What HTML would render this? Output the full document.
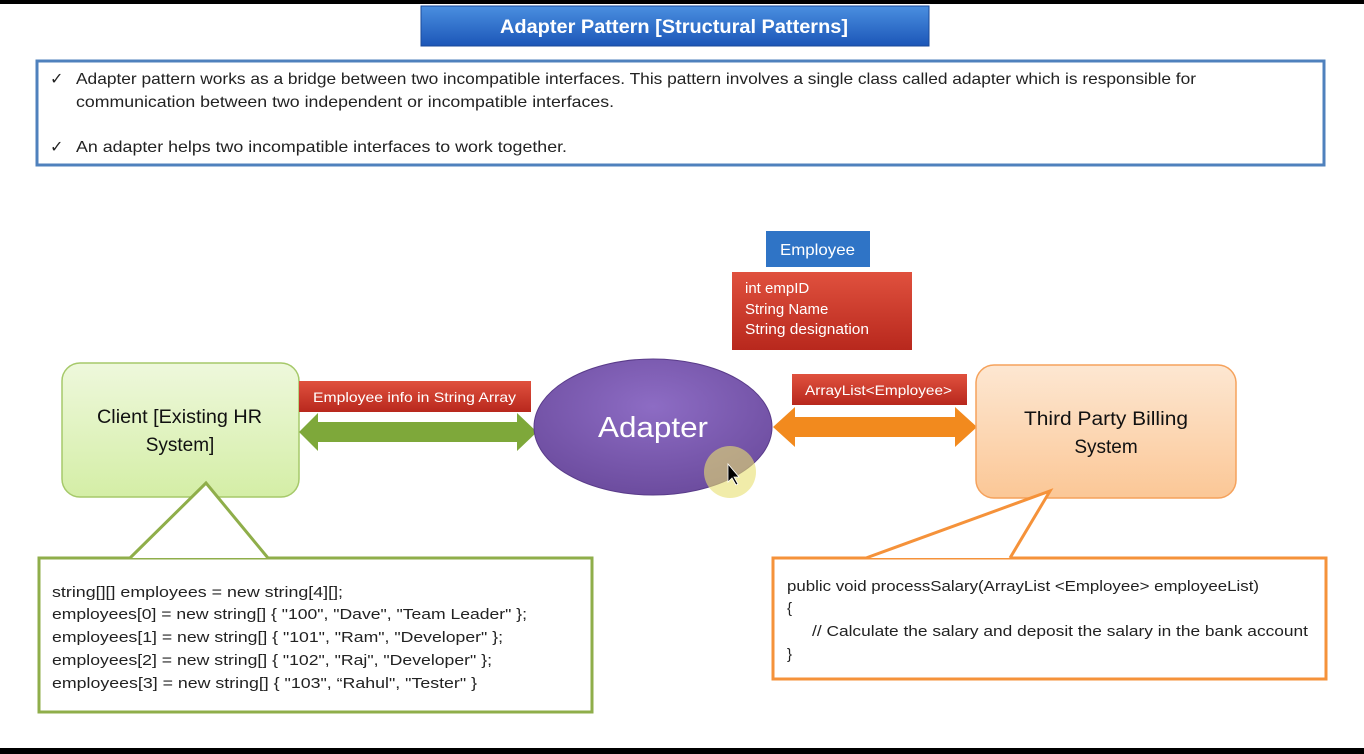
<!DOCTYPE html>
<html><head><meta charset="utf-8"><style>
html,body{margin:0;padding:0;background:#fff;}
svg{display:block;}
text{font-family:"Liberation Sans",sans-serif;}
</style></head><body>
<svg width="1364" height="754" viewBox="0 0 1364 754" xmlns="http://www.w3.org/2000/svg">
<defs>
<linearGradient id="tb" x1="0" y1="0" x2="0" y2="1"><stop offset="0" stop-color="#4a8fe0"/><stop offset="1" stop-color="#1c56b8"/></linearGradient>
<linearGradient id="rd" x1="0" y1="0" x2="0" y2="1"><stop offset="0" stop-color="#e0513e"/><stop offset="1" stop-color="#b8281d"/></linearGradient>
<linearGradient id="gr" x1="0" y1="0" x2="0" y2="1"><stop offset="0" stop-color="#eef8dc"/><stop offset="1" stop-color="#d4eea6"/></linearGradient>
<linearGradient id="or" x1="0" y1="0" x2="0" y2="1"><stop offset="0" stop-color="#fde7d2"/><stop offset="1" stop-color="#fbc796"/></linearGradient>
<radialGradient id="pu" cx="0.5" cy="0.35" r="0.7"><stop offset="0" stop-color="#8d6cc4"/><stop offset="1" stop-color="#6a4a9c"/></radialGradient>
</defs>
<rect x="0" y="0" width="1364" height="4" fill="#000"/>
<rect x="0" y="748" width="1364" height="6" fill="#000"/>
<rect x="421" y="6" width="508" height="40" fill="url(#tb)" stroke="#1a4a9a"/>
<text x="500" y="33" font-size="19" font-weight="bold" fill="#fff" textLength="348" lengthAdjust="spacingAndGlyphs">Adapter Pattern [Structural Patterns]</text>
<rect x="37" y="61" width="1287" height="104" fill="#fff" stroke="#4f81bd" stroke-width="3"/>
<g font-size="16" fill="#222" lengthAdjust="spacingAndGlyphs">
<text x="50" y="84">✓</text><text x="76" y="84" textLength="1120" lengthAdjust="spacingAndGlyphs">Adapter pattern works as a bridge between two incompatible interfaces. This pattern involves a single class called adapter which is responsible for</text>
<text x="76" y="107" textLength="538" lengthAdjust="spacingAndGlyphs">communication between two independent or incompatible interfaces.</text>
<text x="50" y="152">✓</text><text x="76" y="152" textLength="491" lengthAdjust="spacingAndGlyphs">An adapter helps  two incompatible interfaces to work together.</text>
</g>
<rect x="766" y="231" width="104" height="36" fill="#2f74c6"/>
<text x="780" y="255" font-size="16" fill="#fff" textLength="75" lengthAdjust="spacingAndGlyphs">Employee</text>
<rect x="732" y="272" width="180" height="78" fill="url(#rd)"/>
<g font-size="15" fill="#fff"><text x="745" y="293">int empID</text><text x="745" y="314">String Name</text><text x="745" y="334" textLength="124" lengthAdjust="spacingAndGlyphs">String designation</text></g>
<rect x="62" y="363" width="237" height="134" rx="18" fill="url(#gr)" stroke="#a6c96a" stroke-width="1.5"/>
<text x="97" y="423" font-size="19" fill="#111" textLength="165" lengthAdjust="spacingAndGlyphs">Client [Existing HR</text>
<text x="180" y="451" font-size="19" fill="#111" text-anchor="middle">System]</text>
<rect x="299" y="381" width="232" height="31" fill="url(#rd)"/>
<text x="313" y="402" font-size="14" fill="#fff" textLength="203" lengthAdjust="spacingAndGlyphs">Employee info in String Array</text>
<polygon points="299,432 318,413 318,422 517,422 517,413 537,432 517,451 517,442 318,442 318,451" fill="#7ea83a"/>
<ellipse cx="653" cy="427" rx="119" ry="68" fill="url(#pu)" stroke="#5a3c8a" stroke-width="1"/>
<text x="598" y="437" font-size="29" fill="#fff" textLength="110" lengthAdjust="spacingAndGlyphs">Adapter</text>
<circle cx="730" cy="472" r="26" fill="#e8e070" opacity="0.6"/>
<polygon points="728,464 728,482 732,478 736,485 738,484 734,477 739,477" fill="#000" stroke="#fff" stroke-width="0.8"/>
<rect x="792" y="374" width="175" height="31" fill="url(#rd)"/>
<text x="805" y="395" font-size="14" fill="#fff" textLength="147" lengthAdjust="spacingAndGlyphs">ArrayList&lt;Employee&gt;</text>
<polygon points="773,427 795,407 795,417 955,417 955,407 977,427 955,447 955,437 795,437 795,447" fill="#f28a1e"/>
<rect x="976" y="365" width="260" height="133" rx="18" fill="url(#or)" stroke="#f5a25c" stroke-width="1.5"/>
<text x="1024" y="425" font-size="19" fill="#111" textLength="164" lengthAdjust="spacingAndGlyphs">Third Party  Billing</text>
<text x="1106" y="453" font-size="19" fill="#111" text-anchor="middle">System</text>
<rect x="39" y="558" width="553" height="154" fill="#fff" stroke="#8fae4a" stroke-width="3"/>
<polyline points="130,558 206,483 268,558" fill="#fff" stroke="#8fae4a" stroke-width="3"/>
<g font-size="15" fill="#222">
<text x="52" y="597" textLength="291" lengthAdjust="spacingAndGlyphs">string[][] employees = new string[4][];</text>
<text x="52" y="619" textLength="475" lengthAdjust="spacingAndGlyphs">employees[0] = new string[] { "100", "Dave", "Team Leader" };</text>
<text x="52" y="642" textLength="451" lengthAdjust="spacingAndGlyphs">employees[1] = new string[] { "101", "Ram", "Developer" };</text>
<text x="52" y="665" textLength="440" lengthAdjust="spacingAndGlyphs">employees[2] = new string[] { "102", "Raj", "Developer" };</text>
<text x="52" y="688" textLength="425" lengthAdjust="spacingAndGlyphs">employees[3] = new string[] { "103", “Rahul", "Tester" }</text>
</g>
<rect x="773" y="558" width="553" height="121" fill="#fff" stroke="#f5923a" stroke-width="3"/>
<polyline points="866,558 1050,491 1010,558" fill="#fff" stroke="#f5923a" stroke-width="3"/>
<g font-size="15" fill="#222">
<text x="787" y="591" textLength="472" lengthAdjust="spacingAndGlyphs">public void processSalary(ArrayList &lt;Employee&gt; employeeList)</text>
<text x="787" y="613">{</text>
<text x="812" y="636" textLength="496" lengthAdjust="spacingAndGlyphs">// Calculate the salary and deposit the salary in the bank account</text>
<text x="787" y="659">}</text>
</g>
</svg>
</body></html>
